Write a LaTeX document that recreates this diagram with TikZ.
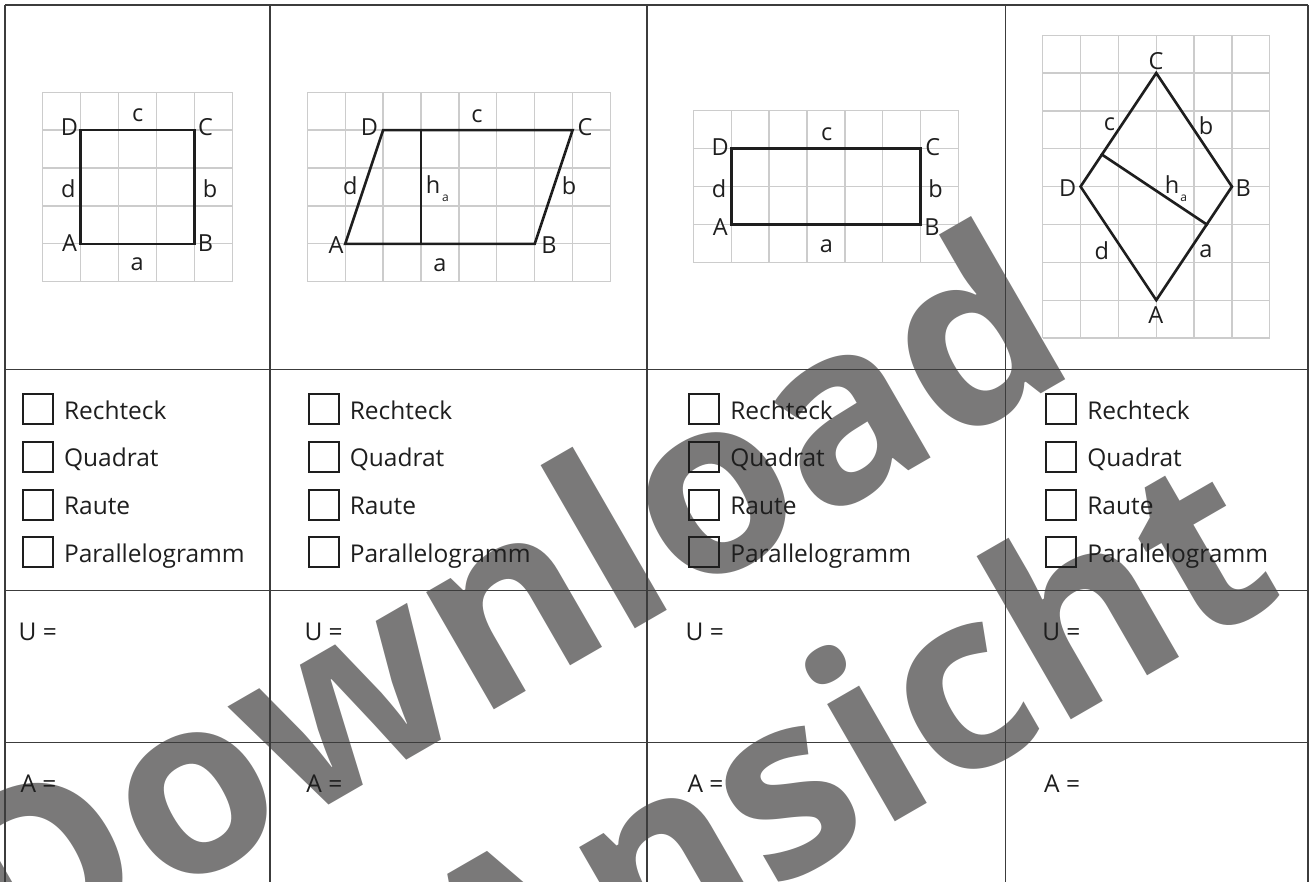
\documentclass[tikz,border=0pt]{standalone}
\usepackage{fontspec}
\setmainfont{Open Sans}
\definecolor{ink}{HTML}{1E1E1E}
\definecolor{gridc}{HTML}{CCCCCC}
\definecolor{rulec}{HTML}{3C3C3C}
\definecolor{wm}{RGB}{122,121,121}
\tikzset{
  gridline/.style={draw=gridc, line width=1.3pt},
  figline/.style={draw=ink, line width=2.6pt, line join=miter, line cap=rect},
  tabline/.style={draw=rulec, line width=1.6pt},
  lbl/.style={inner sep=0pt, text=ink, font=\fontsize{23.5}{28}\selectfont},
  sublbl/.style={inner sep=0pt, text=ink, font=\fontsize{12}{14}\selectfont},
  cbox/.style={draw=ink, line width=2pt, minimum size=30pt, inner sep=0pt, anchor=north west},
  opt/.style={inner sep=0pt, anchor=base west, text=ink, font=\fontsize{24.5}{30}\selectfont},
  wmark/.style={inner sep=0pt, anchor=base west, text=wm, rotate=30, font=\fontsize{248}{248}\selectfont\bfseries},
}
\begin{document}
\begin{tikzpicture}[x=1pt, y=-1pt]
\useasboundingbox (0,0) rectangle (1312,881);
\clip (0,0) rectangle (1312,881);

% ---------- grids ----------
\begin{scope}[shift={(42.7,281.7)}, x=37.9pt, y=37.9pt]
  \draw[gridline] (0,0) grid[step=1] (5,5);
\end{scope}
\begin{scope}[shift={(307.3,281.7)}, x=37.9pt, y=37.9pt]
  \draw[gridline] (0,0) grid[step=1] (8,5);
\end{scope}
\begin{scope}[shift={(693.3,262.3)}, x=37.9pt, y=37.9pt]
  \draw[gridline] (0,0) grid[step=1] (7,4);
\end{scope}
\begin{scope}[shift={(1042.7,338)}, x=37.85pt, y=37.85pt]
  \draw[gridline] (0,0) grid[step=1] (6,8);
\end{scope}

% ---------- watermark ----------
\node[wmark] (wm1) at (6,992) {Download};
\node[wmark] (wm2) at (482,1060) {Ansicht};

% ---------- table ----------
\draw[tabline] (5,5) -- (1308,5);
\foreach \xx in {5,270,647,1005.5,1308} { \draw[tabline] (\xx,5) -- (\xx,900); }
\foreach \yy in {369.3,590.3,742.3} { \draw[tabline] (5,\yy) -- (1308,\yy); }

% ---------- figure 1: square ----------
\begin{scope}[shift={(42.7,281.7)}, x=37.9pt, y=37.9pt]
  \coordinate (s1A) at (1,1); \coordinate (s1B) at (4,1);
  \coordinate (s1C) at (4,4); \coordinate (s1D) at (1,4);
  \draw[figline] (s1A) -- (s1B) -- (s1C) -- (s1D) -- cycle;
\end{scope}
\node[lbl] (l1D) at (69.5,126.7) {D};
\node[lbl] (l1c) at (137.7,115.7) {c};
\node[lbl] (l1C) at (205.5,127) {C};
\node[lbl] (l1d) at (68.3,189) {d};
\node[lbl] (l1b) at (210,189) {b};
\node[lbl] (l1A) at (69.5,243) {A};
\node[lbl] (l1B) at (205.5,243) {B};
\node[lbl] (l1a) at (137.2,264) {a};

% ---------- figure 2: parallelogram ----------
\begin{scope}[shift={(307.3,281.7)}, x=37.9pt, y=37.9pt]
  \coordinate (s2A) at (1,1); \coordinate (s2B) at (6,1);
  \coordinate (s2C) at (7,4); \coordinate (s2D) at (2,4);
  \coordinate (s2H1) at (3,1); \coordinate (s2H2) at (3,4);
  \draw[figline] (s2A) -- (s2B) -- (s2C) -- (s2D) -- cycle;
  \draw[figline] (s2H1) -- (s2H2);
\end{scope}
\node[lbl] (l2D) at (369.5,127.5) {D};
\node[lbl] (l2c) at (477,116.5) {c};
\node[lbl] (l2C) at (585,127) {C};
\node[lbl] (l2d) at (350.3,186) {d};
\node[lbl] (l2h) at (433,185) {h};
\node[sublbl] (l2hs) at (445.5,198.3) {a};
\node[lbl] (l2b) at (569,186) {b};
\node[lbl] (l2A) at (336,245.5) {A};
\node[lbl] (l2B) at (549,245) {B};
\node[lbl] (l2a) at (440,265) {a};

% ---------- figure 3: rectangle ----------
\begin{scope}[shift={(693.3,262.3)}, x=37.9pt, y=37.9pt]
  \coordinate (s3A) at (1,1); \coordinate (s3B) at (6,1);
  \coordinate (s3C) at (6,3); \coordinate (s3D) at (1,3);
  \draw[figline] (s3A) -- (s3B) -- (s3C) -- (s3D) -- cycle;
\end{scope}
\node[lbl] (l3D) at (720.3,146.7) {D};
\node[lbl] (l3c) at (826.7,134) {c};
\node[lbl] (l3C) at (932.7,146.7) {C};
\node[lbl] (l3d) at (719,189) {d};
\node[lbl] (l3b) at (935.5,189) {b};
\node[lbl] (l3A) at (720.3,226.7) {A};
\node[lbl] (l3B) at (932,226.7) {B};
\node[lbl] (l3a) at (826.3,246) {a};

% ---------- figure 4: rhombus ----------
\begin{scope}[shift={(1042.7,338)}, x=37.85pt, y=37.85pt]
  \coordinate (s4A) at (3,1); \coordinate (s4B) at (5,4);
  \coordinate (s4C) at (3,7); \coordinate (s4D) at (1,4);
  \coordinate (s4H1) at (1.564,4.846); \coordinate (s4H2) at (4.333,3);
  \draw[figline] (s4A) -- (s4B) -- (s4C) -- (s4D) -- cycle;
  \draw[figline] (s4H1) -- (s4H2);
\end{scope}
\node[lbl] (l4C) at (1156,60.8) {C};
\node[lbl] (l4c) at (1109.5,124) {c};
\node[lbl] (l4b) at (1206,125.8) {b};
\node[lbl] (l4D) at (1067.8,188) {D};
\node[lbl] (l4h) at (1172,184.7) {h};
\node[sublbl] (l4hs) at (1183.7,198.3) {a};
\node[lbl] (l4B) at (1243.3,188) {B};
\node[lbl] (l4d) at (1101.7,250.8) {d};
\node[lbl] (l4a) at (1205.8,251) {a};
\node[lbl] (l4A) at (1155.8,314.7) {A};

% ---------- check boxes, U, A ----------
\foreach \bx/\ux [count=\i] in {20.7/20.7, 306.5/306.5, 687/687.7, 1044/1044.3} {
  \foreach \txt [count=\j] in {Rechteck, Quadrat, Raute, Parallelogramm} {
    \node[cbox] (box\i\j) at ({\bx+1}, {393.3+47.6*(\j-1)}) {};
    \node[opt] (opt\i\j) at ({\bx+43.1}, {419.3+47.6*(\j-1)}) {\txt};
  }
  \node[opt] (U\i) at ({\ux-2.2}, 640) {U =};
  \node[opt] (Ar\i) at ({\ux-0.3}, 792.3) {A =};
}
\end{tikzpicture}
\end{document}
